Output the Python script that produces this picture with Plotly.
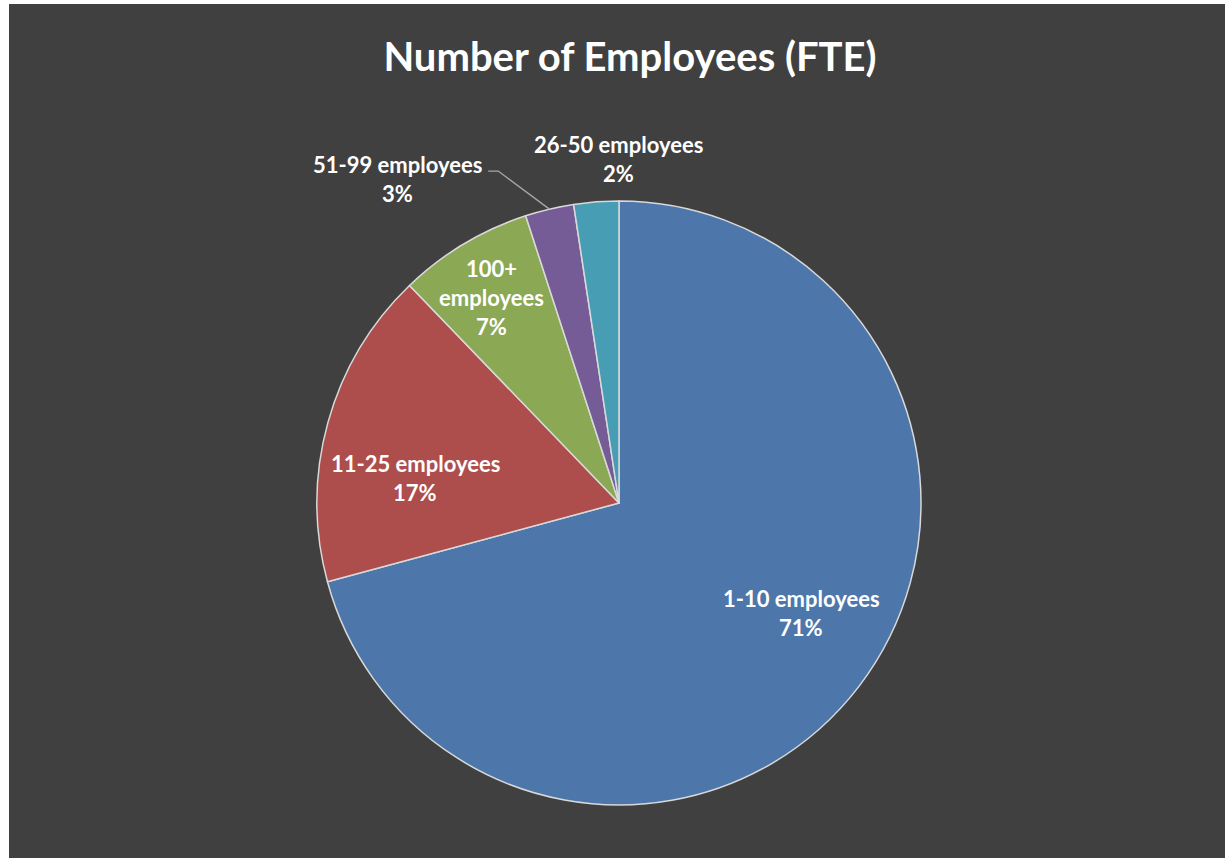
import math
import plotly.graph_objects as go

# ---- data ----
categories = ["1-10 employees", "11-25 employees", "100+ employees", "51-99 employees", "26-50 employees"]
values = [70.8, 17.0, 7.2, 2.6, 2.4]
colors = ["#4D77AA", "#AD4E4C", "#8BA855", "#765C96", "#469DB4"]
title_text = "Number of Employees (FTE)"

# ---- layout geometry (pixels) ----
W, H = 1225, 858
CX, CY, R = 619, 503, 302
# label placement: (angle clockwise from 12 o'clock in degrees, radius fraction)
label_place = [(121.1, 0.705), (277.0, 0.68), (328.2, 0.80), (325.6, 1.30), (0.0, 1.14)]
leader_for = 3  # index with leader line
LINE_GAP = 29
FONT = "Lato"

def px2paper(x, y):
    return x / W, 1 - y / H

fig = go.Figure()
fig.add_trace(go.Pie(
    labels=categories, values=values, sort=False, direction="clockwise", rotation=0,
    marker=dict(colors=colors, line=dict(color="#D9D9D9", width=1.5)),
    textinfo="none", hoverinfo="label+percent", showlegend=False,
    domain=dict(x=[(CX - R) / W, (CX + R) / W], y=[(H - CY - R) / H, (H - CY + R) / H]),
))

total = sum(values)
annotations = []
label_centers = []
for i, (cat, v) in enumerate(zip(categories, values)):
    ang, rf = label_place[i]
    a = math.radians(ang)
    lx = CX + rf * R * math.sin(a)
    ly = CY - rf * R * math.cos(a)
    label_centers.append((lx, ly))
    if cat == "100+ employees":
        lines = ["100+", "employees"]
    else:
        lines = [cat]
    lines.append(f"{round(v / total * 100):d}%")
    n = len(lines)
    for j, ln in enumerate(lines):
        yy = ly + (j - (n - 1) / 2) * LINE_GAP
        x, y = px2paper(lx, yy)
        annotations.append(dict(x=x, y=y, xref="paper", yref="paper", text=f"<b>{ln}</b>", showarrow=False,
                                font=dict(family=FONT, size=22, color="white"),
                                xanchor="center", yanchor="middle"))

# leader line for the small slice
cum = sum(values[:leader_for])
mid = (cum + values[leader_for] / 2) / total * 360
ma = math.radians(mid)
ex, ey = CX + R * math.sin(ma), CY - R * math.cos(ma)
lx, ly = label_centers[leader_for]
sx, sy = lx + 91, ly - 8
kx = sx + 10
p0 = px2paper(sx, sy); p1 = px2paper(kx, sy); p2 = px2paper(ex, ey)
shapes = [
    dict(type="rect", xref="paper", yref="paper", x0=9 / W, x1=1, y0=0, y1=1 - 4 / H,
         fillcolor="#404040", line=dict(width=0), layer="below"),
    dict(type="path", xref="paper", yref="paper",
         path=f"M {p0[0]},{p0[1]} L {p1[0]},{p1[1]} L {p2[0]},{p2[1]}",
         line=dict(color="#A6A6A6", width=1.3)),
]

fig.update_layout(
    width=W, height=H, margin=dict(l=0, r=0, t=0, b=0),
    paper_bgcolor="white", plot_bgcolor="#404040",
    title=dict(text=f"<b>{title_text}</b>", x=630 / W, xanchor="center", y=1 - 57 / H, yanchor="middle",
               font=dict(family=FONT, size=40, color="white")),
    annotations=annotations, shapes=shapes,
)

fig.write_html("out.html", config={"displayModeBar": False},
               post_script="document.body.style.margin='0';document.body.style.overflow='hidden';")
